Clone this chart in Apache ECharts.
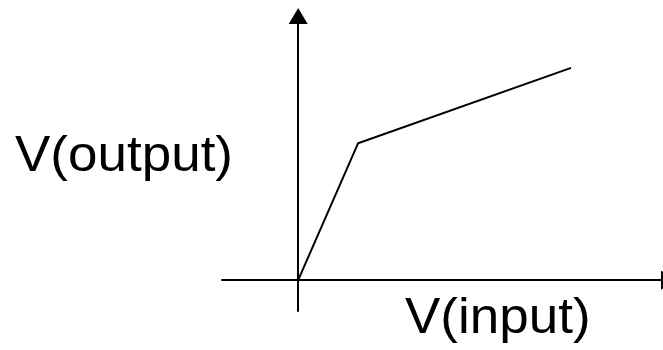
<!DOCTYPE html>
<html>
<head>
<meta charset="utf-8">
<script src="https://cdn.jsdelivr.net/npm/echarts@6/dist/echarts.min.js"></script>
<style>
  html, body { margin: 0; padding: 0; background: #fff; }
  #chart { width: 663px; height: 350px; }
</style>
</head>
<body>
<div id="chart"></div>
<script>
// transfer curve: input vs output (arbitrary units)
var inputVals = [0, 1, 4.55];
var outputVals = [0, 2, 3.1];
var xRange = [-1.27, 6.05];
var yRange = [-0.45, 3.74];
var yLabel = 'V(output)';
var xLabel = 'V(input)';

var myChart = echarts.init(document.getElementById('chart'));

var pts = [];
for (var i = 0; i < inputVals.length; i++) {
    pts.push([inputVals[i], outputVals[i]]);
}

var axisLineStyle = { color: '#000', width: 2 };

function bigText(txt, x, y) {
    return {
        type: 'text',
        x: x, y: y,
        scaleX: 1.06,
        style: {
            x: 0, y: 0,
            text: txt,
            font: '50px "Liberation Sans", Arial, sans-serif',
            fill: '#000',
            textVerticalAlign: 'middle'
        }
    };
}

var option = {
    animation: false,
    grid: { left: 222, right: 2, top: 24, bottom: 39 },
    xAxis: {
        type: 'value',
        min: xRange[0],
        max: xRange[1],
        axisLine: {
            show: true,
            onZero: true,
            symbol: ['none', 'triangle'],
            symbolSize: [19, 16],
            symbolOffset: [0, 8],
            lineStyle: axisLineStyle
        },
        axisTick: { show: false },
        axisLabel: { show: false },
        splitLine: { show: false }
    },
    yAxis: {
        type: 'value',
        min: yRange[0],
        max: yRange[1],
        axisLine: {
            show: true,
            onZero: true,
            symbol: ['none', 'triangle'],
            symbolSize: [19, 16],
            symbolOffset: [0, 8],
            lineStyle: axisLineStyle
        },
        axisTick: { show: false },
        axisLabel: { show: false },
        splitLine: { show: false }
    },
    graphic: [
        bigText(yLabel, 15, 157),
        bigText(xLabel, 405, 319)
    ],
    series: [
        {
            type: 'line',
            data: pts,
            symbol: 'none',
            lineStyle: { color: '#000', width: 2 }
        }
    ]
};

myChart.setOption(option);
</script>
</body>
</html>
